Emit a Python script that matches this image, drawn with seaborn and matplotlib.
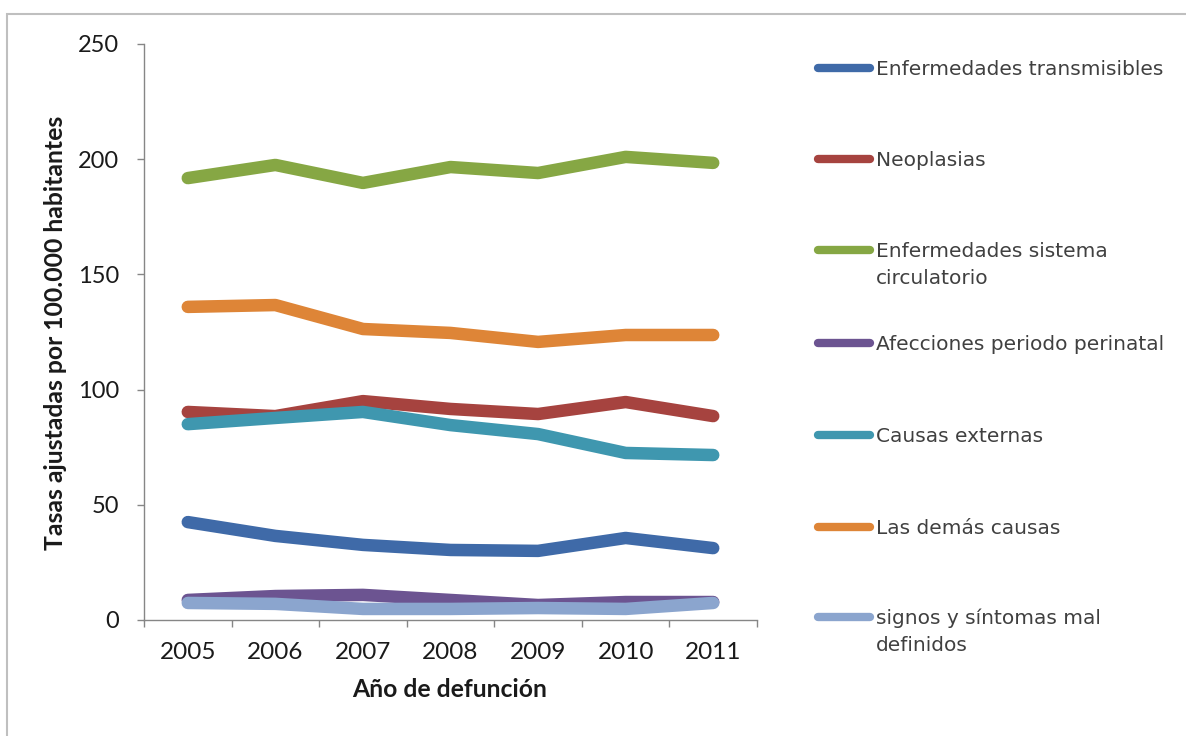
import matplotlib
matplotlib.use("Agg")
import matplotlib.pyplot as plt
from matplotlib.lines import Line2D
from matplotlib.patches import Rectangle
import seaborn as sns
import pandas as pd

years = ["2005", "2006", "2007", "2008", "2009", "2010", "2011"]

transmisibles = [42.5, 36.5, 32.6, 30.4, 30.0, 35.6, 31.2]
neoplasias = [90.3, 88.5, 95.0, 91.6, 89.4, 94.6, 88.5]
circulatorio = [191.8, 197.5, 189.7, 196.6, 194.0, 201.0, 198.4]
perinatal = [8.7, 10.4, 10.9, 8.7, 6.5, 7.8, 7.8]
externas = [85.0, 87.7, 90.3, 84.6, 80.7, 72.5, 71.6]
demas = [135.9, 136.7, 126.3, 124.6, 120.7, 123.7, 123.7]
mal_definidos = [7.4, 7.0, 4.8, 4.8, 5.2, 4.8, 7.4]

series_names = [
    "Enfermedades transmisibles",
    "Neoplasias",
    "Enfermedades sistema\ncirculatorio",
    "Afecciones periodo perinatal",
    "Causas externas",
    "Las demás causas",
    "signos y síntomas mal\ndefinidos",
]
series_values = [transmisibles, neoplasias, circulatorio, perinatal,
                 externas, demas, mal_definidos]
colors = ["#3F6AA8", "#A6433F", "#86A744", "#6C5491",
          "#3F97AF", "#DE8537", "#8BA5CE"]

rows = []
for name, vals in zip(series_names, series_values):
    for i, (yr, v) in enumerate(zip(years, vals)):
        rows.append({"pos": i, "year": yr, "serie": name, "tasa": v})
df = pd.DataFrame(rows)

sns.set_theme(style="white")
plt.rcParams["font.family"] = ["Lato", "DejaVu Sans"]

fig = plt.figure(figsize=(11.86, 7.36), dpi=100)
ax = fig.add_axes([144 / 1186, 1 - 620 / 736, 613 / 1186, 576 / 736])

sns.lineplot(data=df, x="pos", y="tasa", hue="serie", hue_order=series_names,
             palette=colors, linewidth=9, solid_capstyle="round",
             solid_joinstyle="round", legend=False, ax=ax, sort=False)

ax.set_xlim(-0.5, 6.5)
ax.set_ylim(0, 250)
ax.set_yticks([0, 50, 100, 150, 200, 250])
ax.set_yticklabels(["0", "50", "100", "150", "200", "250"])
ax.set_xticks([i - 0.5 for i in range(8)])
ax.set_xticklabels([])
ax.set_xticks(list(range(7)), minor=True)
ax.set_xticklabels(years, minor=True)

ax.tick_params(axis="y", which="major", length=5, width=1, color="#868686",
               direction="out", left=True, pad=13, labelsize=17,
               labelcolor="#1a1a1a")
ax.tick_params(axis="x", which="major", length=5, width=1, color="#868686",
               direction="out", bottom=True)
ax.tick_params(axis="x", which="minor", length=0, pad=16, labelsize=17.5,
               labelcolor="#1a1a1a")

for side in ["top", "right"]:
    ax.spines[side].set_visible(False)
for side in ["left", "bottom"]:
    ax.spines[side].set_color("#868686")
    ax.spines[side].set_linewidth(1)

ax.set_xlabel("Año de defunción", fontsize=17.8, fontweight="bold",
              color="#1a1a1a")
ax.xaxis.set_label_coords(0.499, -0.1215)
ax.xaxis.label.set_va("center")
ax.set_ylabel("Tasas ajustadas por 100.000 habitantes", fontsize=17.8,
              fontweight="bold", color="#1a1a1a")
ax.yaxis.set_label_coords(-0.1436, 0.498)
ax.yaxis.label.set_va("center")

# Legend on the right, handle aligned with the first text line
W, H = 1186, 736
legend_y = [68, 159, 250, 343, 435, 527, 617]
for name, col, yy in zip(series_names, colors, legend_y):
    fy = 1 - yy / H
    fig.add_artist(Line2D([818 / W, 870 / W], [fy, fy], color=col,
                          linewidth=6, solid_capstyle="round"))
    fig.text(876 / W, 1 - (yy - 8) / H, name, fontsize=14.5,
             color="#404040", family=["DejaVu Sans"], ha="left", va="top",
             linespacing=1.5, transform=fig.transFigure)

fig.add_artist(Rectangle((7 / W, -0.01), 1.0, 1 - 14 / H + 0.01,
                         transform=fig.transFigure, fill=False,
                         edgecolor="#BFBFBF", linewidth=1.5))

fig.savefig("out.png", dpi=100, facecolor="white")
